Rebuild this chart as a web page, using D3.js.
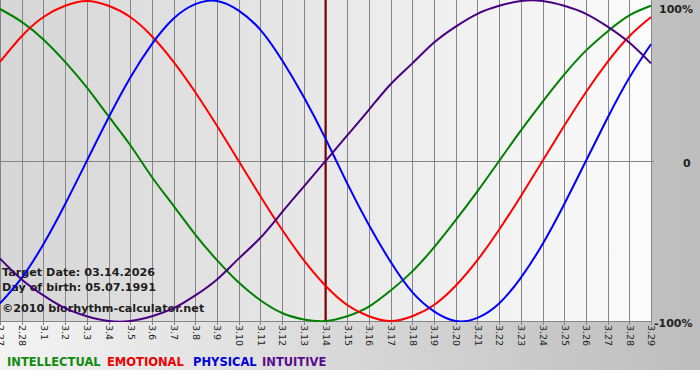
<!DOCTYPE html>
<html><head><meta charset="utf-8">
<script src="https://cdn.jsdelivr.net/npm/d3@7"></script>
<style>html,body{margin:0;padding:0;background:#fff;}svg{display:block;}</style>
</head><body>
<div id="chart"></div>
<script>
const days = ["2.27","2.28","3.1","3.2","3.3","3.4","3.5","3.6","3.7","3.8","3.9","3.10","3.11","3.12","3.13","3.14","3.15","3.16","3.17","3.18","3.19","3.20","3.21","3.22","3.23","3.24","3.25","3.26","3.27","3.28","3.29"];
const intellectual = [0.95,0.87,0.76,0.62,0.46,0.28,0.10,-0.10,-0.28,-0.46,-0.62,-0.76,-0.87,-0.95,-0.99,-1.00,-0.97,-0.91,-0.81,-0.69,-0.54,-0.37,-0.19,0.00,0.19,0.37,0.54,0.69,0.81,0.91,0.97];
const emotional = [0.62,0.78,0.90,0.97,1.00,0.97,0.90,0.78,0.62,0.43,0.22,0.00,-0.22,-0.43,-0.62,-0.78,-0.90,-0.97,-1.00,-0.97,-0.90,-0.78,-0.62,-0.43,-0.22,0.00,0.22,0.43,0.62,0.78,0.90];
const physical = [-0.89,-0.73,-0.52,-0.27,0.00,0.27,0.52,0.73,0.89,0.98,1.00,0.94,0.82,0.63,0.40,0.14,-0.14,-0.40,-0.63,-0.82,-0.94,-1.00,-0.98,-0.89,-0.73,-0.52,-0.27,0.00,0.27,0.52,0.73];
const intuitive = [-0.61,-0.74,-0.84,-0.92,-0.97,-1.00,-1.00,-0.97,-0.92,-0.84,-0.74,-0.61,-0.48,-0.32,-0.16,0.00,0.16,0.32,0.48,0.61,0.74,0.84,0.92,0.97,1.00,1.00,0.97,0.92,0.84,0.74,0.61];
const seriesNames = ["INTELLECTUAL","EMOTIONAL","PHYSICAL","INTUITIVE"];
const seriesColors = ["#008000","#ff0000","#0000ff","#4b0082"];
const legendColors = ["#118a11","#ee0000","#0000dd","#5a0a8c"];
const yTicks = [1, 0, -1];
const yTickLabels = ["100%","0","-100%"];
const targetDay = "3.14";
const infoLines = ["Target Date: 03.14.2026","Day of birth: 05.07.1991","©2010 biorhythm-calculator.net"];

const W = 700, H = 380;
const svg = d3.select("#chart").append("svg").attr("width", W).attr("height", H);
const defs = svg.append("defs");
const bg = defs.append("linearGradient").attr("id","bg").attr("x1","0").attr("x2","1").attr("y1","0").attr("y2","0");
bg.append("stop").attr("offset","0").attr("stop-color","#f3f3f3");
bg.append("stop").attr("offset","1").attr("stop-color","#bdbdbd");
const pg = defs.append("linearGradient").attr("id","pg").attr("x1","0").attr("x2","1").attr("y1","0").attr("y2","0");
pg.append("stop").attr("offset","0").attr("stop-color","#d6d6d6");
pg.append("stop").attr("offset","1").attr("stop-color","#fbfbfb");

const L = 0, R = 651, T = 1, B = 321;
const x = d3.scalePoint().domain(days).range([L, R]);
const y = d3.scaleLinear().domain([-1, 1]).range([B, T]);

// backgrounds
svg.append("rect").attr("x",0).attr("y",0).attr("width",W).attr("height",370).attr("fill","url(#bg)");
svg.append("rect").attr("x",L).attr("y",0).attr("width",R-L).attr("height",B).attr("fill","url(#pg)");

defs.append("clipPath").attr("id","clip").append("rect").attr("x",L).attr("y",0).attr("width",R-L+1).attr("height",B+1);

// vertical grid
const xAxis = d3.axisBottom(x).tickSize(B + 4).tickSizeOuter(0).tickFormat("");
const gx = svg.append("g").call(xAxis);
gx.select(".domain").remove();
gx.selectAll(".tick line").attr("stroke","#858585").attr("stroke-width",1).attr("shape-rendering","crispEdges");
gx.selectAll(".tick").append("text")
  .attr("transform", "translate(0," + (B + 4) + ") rotate(90)")
  .attr("dy","0.33em")
  .attr("text-anchor","start")
  .attr("fill","#222")
  .style("font-family","'DejaVu Sans', Verdana, sans-serif")
  .style("font-size","9.5px")
  .text(d => d);

// horizontal lines
svg.append("line").attr("x1",L).attr("x2",R+3).attr("y1",y(0)).attr("y2",y(0)).attr("stroke","#858585").attr("shape-rendering","crispEdges");
svg.append("line").attr("x1",L).attr("x2",R).attr("y1",y(-1)).attr("y2",y(-1)).attr("stroke","#858585").attr("shape-rendering","crispEdges");

// y labels
const yAxis = d3.axisRight(y).tickValues(yTicks).tickSize(0).tickPadding(0)
  .tickFormat((d,i) => yTickLabels[i]);
const gy = svg.append("g").call(yAxis);
gy.select(".domain").remove();
gy.selectAll(".tick text")
  .attr("x", (d,i) => i === 1 ? 683 : (i === 0 ? 659 : 654))
  .attr("dy", null)
  .attr("y", (d,i) => [11, 5, 5][i])
  .attr("fill","#222")
  .style("font-family","'DejaVu Sans', Verdana, sans-serif")
  .style("font-weight","bold").style("font-size","11px");

// info text
svg.selectAll("text.info").data(infoLines).enter().append("text").attr("class","info")
  .attr("x", 2).attr("y", (d,i) => [276, 291, 312][i])
  .attr("fill","#1e1e1e")
  .style("font-family","'DejaVu Sans', Verdana, sans-serif")
  .style("font-weight","bold").style("font-size","11.2px")
  .text(d => d);

// target marker
svg.append("line").attr("x1", x(targetDay)).attr("x2", x(targetDay)).attr("y1", 0).attr("y2", B)
  .attr("stroke","#800000").attr("stroke-width",2);

// curves
const allSeries = [intellectual, emotional, physical, intuitive];
const line = d3.line().x((d,i) => x(days[i])).y(d => y(d)).curve(d3.curveNatural);
svg.append("g").attr("clip-path","url(#clip)").selectAll("path").data(allSeries).enter().append("path")
  .attr("d", d => line(d)).attr("fill","none")
  .attr("stroke", (d,i) => seriesColors[i]).attr("stroke-width",2);

// legend
const lx = [7, 107, 193, 262];
svg.selectAll("text.leg").data(seriesNames).enter().append("text").attr("class","leg")
  .attr("x", (d,i) => lx[i]).attr("y", 366)
  .attr("fill", (d,i) => legendColors[i])
  .style("font-family","'DejaVu Sans', Verdana, sans-serif")
  .style("font-weight","bold").style("font-size","11.5px")
  .text(d => d);
</script>
</body></html>
